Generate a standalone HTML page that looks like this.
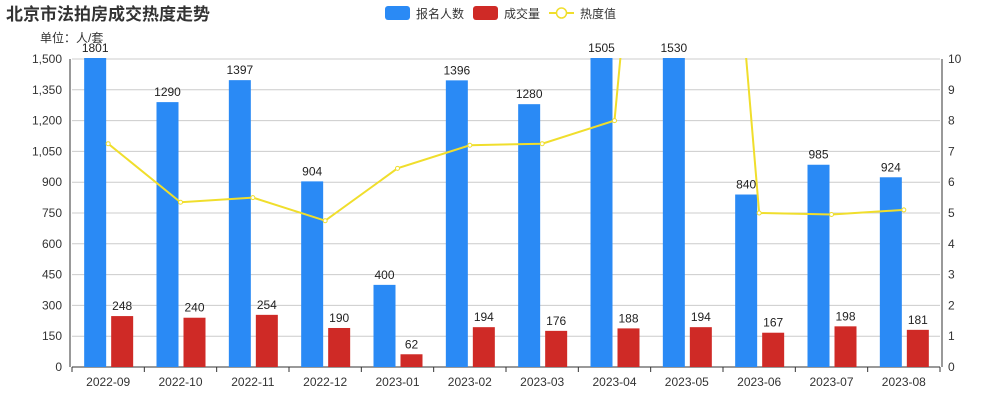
<!DOCTYPE html>
<html><head><meta charset="utf-8"><style>
body{margin:0;background:#fff;font-family:"Liberation Sans","Noto Sans CJK SC",sans-serif}
svg text{font-family:"Liberation Sans","Noto Sans CJK SC",sans-serif}
</style></head><body>
<svg id="c" width="1000" height="400" xmlns="http://www.w3.org/2000/svg">
<text x="6" y="20" font-size="17" font-weight="bold" fill="#333">北京市法拍房成交热度走势</text>
<text x="40" y="42" font-size="12" fill="#333">单位：人/套</text>
<g>
<g><rect x="385" y="6" width="25" height="14" rx="3" fill="#2a8af5"/><text x="416" y="18" font-size="12" fill="#333">报名人数</text></g>
<g><rect x="473" y="6" width="25" height="14" rx="3" fill="#cf2a26"/><text x="504" y="18" font-size="12" fill="#333">成交量</text></g>
<g><line x1="549" y1="13" x2="574" y2="13" stroke="#f0de2c" stroke-width="2"/><circle cx="561.5" cy="13" r="5" fill="#fff" stroke="#f0de2c" stroke-width="1.5"/><text x="580" y="18" font-size="12" fill="#333">热度值</text></g>
</g>
<defs><clipPath id="clip"><rect x="70" y="58" width="872" height="312"/></clipPath></defs>
<g id="grid"></g><g id="marks"></g><g id="labels"></g><g id="axes"></g>
</svg>
<script>
const categories=["2022-09","2022-10","2022-11","2022-12","2023-01","2023-02","2023-03","2023-04","2023-05","2023-06","2023-07","2023-08"];
const applicants=[1801,1290,1397,904,400,1396,1280,1505,1530,840,985,924];
const deals=[248,240,254,190,62,194,176,188,194,167,198,181];
const heat=[7.25,5.35,5.5,4.75,6.45,7.2,7.25,8.0,33,5.0,4.95,5.1];
const leftTicks=[0,150,300,450,600,750,900,1050,1200,1350,1500];
const rightTicks=[0,1,2,3,4,5,6,7,8,9,10];
const NS="http://www.w3.org/2000/svg";
const X0=72,X1=940,Y0=367,Y1=59;
const bw=(X1-X0)/categories.length;
const xc=i=>X0+bw*(i+0.5);
const yL=v=>Y0-(v/1500)*(Y0-Y1);
const yR=v=>Y0-(v/10)*(Y0-Y1);
function mk(t,a,p){const e=document.createElementNS(NS,t);for(const k in a)e.setAttribute(k,a[k]);document.getElementById(p).appendChild(e);return e;}
leftTicks.forEach((v,i)=>{
 const l=mk('line',{x1:X0,x2:X1,y1:yL(v),y2:yL(v),stroke:i?'#ccc':'#333','stroke-width':1},'grid');
 
 
 const t=mk('text',{x:62,y:yL(v)+4,'font-size':12,fill:'#333','text-anchor':'end'},'axes');
 t.textContent=v.toLocaleString('en-US');
 
 
});
rightTicks.forEach(v=>{
 const t=mk('text',{x:948,y:yR(v)+4,'font-size':12,fill:'#333'},'axes');
 t.textContent=v;
 
 
});
const mg=document.getElementById('marks');mg.setAttribute('clip-path','url(#clip)');
for(let i=0;i<=categories.length;i++){
 const tk=mk('line',{x1:X0+bw*i,x2:X0+bw*i,y1:Y0,y2:Y0+5,stroke:'#333'},'axes');
 
 
}
categories.forEach((c,i)=>{
 const cx=xc(i);
 const b=mk('rect',{x:cx-24,y:yL(applicants[i]),width:22,height:Y0-yL(applicants[i]),fill:'#2a8af5'},'marks');
 
 
 const r=mk('rect',{x:cx+3,y:yL(deals[i]),width:22,height:Y0-yL(deals[i]),fill:'#cf2a26'},'marks');
 
 
 const t1=mk('text',{x:cx-13,y:Math.max(yL(applicants[i]),Y1-1)-6,'font-size':12,fill:'#222','text-anchor':'middle'},'labels');
 t1.textContent=applicants[i];
 
 
 const t2=mk('text',{x:cx+14,y:yL(deals[i])-6,'font-size':12,fill:'#222','text-anchor':'middle'},'labels');
 t2.textContent=deals[i];
 
 
 const xt=mk('text',{x:cx,y:386,'font-size':12,fill:'#333','text-anchor':'middle'},'axes');
 xt.textContent=c;
 
 
});
const pl=mk('polyline',{points:heat.map((v,i)=>xc(i)+','+yR(v)).join(' '),fill:'none',stroke:'#f0de2c','stroke-width':2},'marks');


heat.forEach((v,i)=>{
 const p=mk('circle',{cx:xc(i),cy:yR(v),r:2,fill:'#fff',stroke:'#f0de2c'},'marks');
 
 
});
const al=mk('line',{x1:70,x2:70,y1:Y1,y2:Y0,stroke:'#333'},'axes');


const ar=mk('line',{x1:942,x2:942,y1:Y1,y2:Y0,stroke:'#333'},'axes');


</script>
</body></html>
